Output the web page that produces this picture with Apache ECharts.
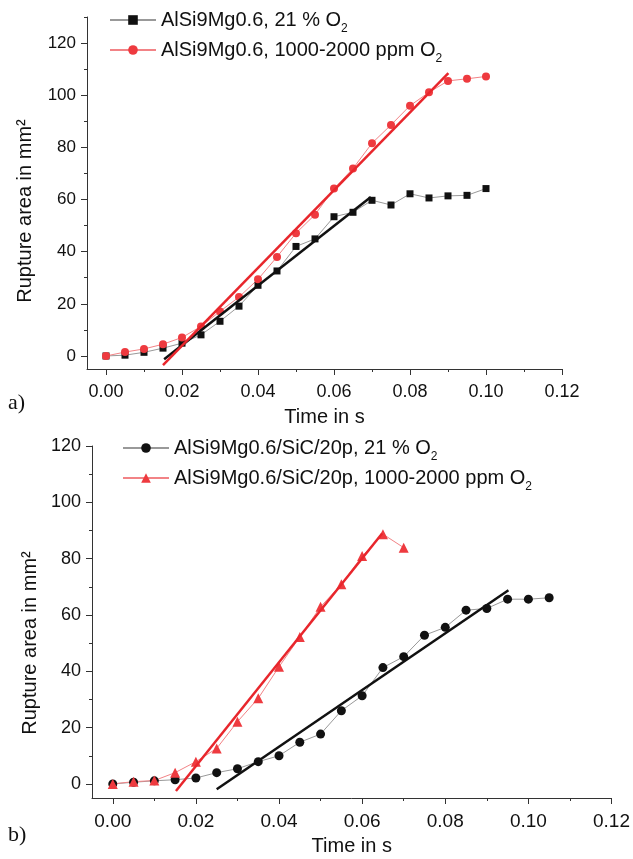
<!DOCTYPE html>
<html>
<head>
<meta charset="utf-8">
<script src="https://cdn.jsdelivr.net/npm/echarts@6/dist/echarts.min.js"></script>
<style>
  html, body { margin: 0; background: #fff; }
  #main { width: 633px; height: 859px; }
</style>
</head>
<body>
<div id="main"></div>
<script>
// ---- data ----
const timeA = [0, 0.005, 0.01, 0.015, 0.02, 0.025, 0.03, 0.035, 0.04, 0.045, 0.05,
  0.055, 0.06, 0.065, 0.07, 0.075, 0.08, 0.085, 0.09, 0.095, 0.1];
const areaAir = [0, 0.3, 1.4, 3.0, 4.9, 8.1, 13.3, 19.1, 27.1, 32.6, 42.0,
  44.9, 53.4, 55.1, 59.7, 57.9, 62.2, 60.6, 61.4, 61.6, 64.2];
const areaLow = [0, 1.5, 2.7, 4.5, 7.1, 11.3, 17.1, 22.6, 29.4, 38.0, 47.1,
  54.2, 64.2, 71.9, 81.6, 88.6, 96.0, 101.1, 105.5, 106.3, 107.2];
const fitAirA = [[0.0153, -1.3], [0.0697, 61.0]];
const fitLowA = [[0.015, -3.5], [0.0901, 108.5]];

const timeBAir = [0, 0.005, 0.01, 0.015, 0.02, 0.025, 0.03, 0.035, 0.04, 0.045, 0.05,
  0.055, 0.06, 0.065, 0.07, 0.075, 0.08, 0.085, 0.09, 0.095, 0.1, 0.105];
const areaSicAir = [0, 0.6, 1.1, 1.5, 2.1, 4.0, 5.4, 7.9, 10.0, 14.8, 17.7,
  26.0, 31.3, 41.3, 45.2, 52.8, 55.6, 61.7, 62.3, 65.6, 65.6, 66.1];
const timeBLow = [0, 0.005, 0.01, 0.015, 0.02, 0.025, 0.03, 0.035, 0.04, 0.045, 0.05,
  0.055, 0.06, 0.065, 0.07];
const areaSicLow = [0, 0.8, 1.2, 4.0, 7.9, 12.6, 22.1, 30.4, 41.6, 52.2, 62.9,
  70.9, 80.9, 88.7, 83.9];
const fitAirB = [[0.025, -1.9], [0.0952, 68.8]];
const fitLowB = [[0.0152, -2.5], [0.0648, 88.9]];

// tick values
const xMajor = [0, 0.02, 0.04, 0.06, 0.08, 0.10, 0.12];
const xMinor = [0.01, 0.03, 0.05, 0.07, 0.09, 0.11];
const yMajor = [0, 20, 40, 60, 80, 100, 120];
const yMinorA = [10, 30, 50, 70, 90, 110, 130];
const yMinorB = [10, 30, 50, 70, 90, 110];

const namesA = ['AlSi9Mg0.6, 21 % O2', 'AlSi9Mg0.6, 1000-2000 ppm O2'];
const namesB = ['AlSi9Mg0.6/SiC/20p, 21 % O2', 'AlSi9Mg0.6/SiC/20p, 1000-2000 ppm O2'];

const FONT = '"Liberation Sans", Arial, sans-serif';
const RED = '#ee3a3f';
const AXIS = '#333';

const pairs = (xs, ys) => xs.map((x, i) => [x, ys[i]]);

function xMain(grid, labelSize) {
  return {
    type: 'value', gridIndex: grid, min: -0.005, max: 0.12, position: 'bottom',
    name: 'Time in s', nameLocation: 'middle', nameGap: 38,
    nameTextStyle: { fontFamily: FONT, fontSize: 20, color: '#111' },
    axisLine: { onZero: false, lineStyle: { color: AXIS, width: 1 } },
    axisTick: { customValues: xMajor, length: 6, lineStyle: { color: AXIS } },
    axisLabel: { customValues: xMajor, margin: 14, fontFamily: FONT, fontSize: labelSize,
      color: '#111', formatter: v => v.toFixed(2) },
    splitLine: { show: false }
  };
}
function xMinorAxis(grid) {
  return {
    type: 'value', gridIndex: grid, min: -0.005, max: 0.12, position: 'bottom',
    axisLine: { show: false, onZero: false },
    axisTick: { customValues: xMinor, length: 3, lineStyle: { color: AXIS } },
    axisLabel: { show: false }, splitLine: { show: false }
  };
}
function yMain(grid, max, labelSize, gap, shift) {
  return {
    type: 'value', gridIndex: grid, min: -5, max: max, position: 'left',
    name: 'Rupture area in mm²', nameLocation: 'middle', nameGap: gap,
    nameTextStyle: { fontFamily: FONT, fontSize: 20, color: '#111', padding: [0, shift, 0, 0] },
    axisLine: { show: true, onZero: false, lineStyle: { color: AXIS, width: 1 } },
    axisTick: { show: true, customValues: yMajor, length: 6, lineStyle: { color: AXIS } },
    axisLabel: { customValues: yMajor, margin: 11, fontFamily: FONT, fontSize: labelSize, color: '#111' },
    splitLine: { show: false }
  };
}
function yMinorAxis(grid, max, minors) {
  return {
    type: 'value', gridIndex: grid, min: -5, max: max, position: 'left',
    axisLine: { show: false, onZero: false },
    axisTick: { show: true, customValues: minors, length: 3, lineStyle: { color: AXIS } },
    axisLabel: { show: false }, splitLine: { show: false }
  };
}

function dataSeries(name, xi, yi, data, symbol, size, color, lineColor) {
  return {
    name: name, type: 'line', xAxisIndex: xi, yAxisIndex: yi, data: data,
    symbol: symbol, symbolSize: size,
    itemStyle: { color: color },
    lineStyle: { color: lineColor, width: 1 },
    z: 3
  };
}
function fitSeries(xi, yi, data, color) {
  return {
    type: 'line', xAxisIndex: xi, yAxisIndex: yi, data: data,
    symbol: 'none', lineStyle: { color: color, width: 2.5 }, z: 4
  };
}

function legend(left, top, names) {
  return {
    data: names, orient: 'vertical', left: left, top: top, padding: 0,
    itemWidth: 46, itemHeight: 12, itemGap: 5, selectedMode: false,
    formatter: n => {
      const m = n.match(/^(.*O)2$/);
      return m ? '{t|' + m[1] + '}{s|2}' : '{t|' + n + '}';
    },
    textStyle: {
      fontFamily: FONT, color: '#111',
      rich: {
        t: { fontFamily: FONT, fontSize: 20, lineHeight: 30, color: '#111' },
        s: { fontFamily: FONT, fontSize: 12, lineHeight: 12, verticalAlign: 'bottom', color: '#111' }
      }
    }
  };
}

const chart = echarts.init(document.getElementById('main'), null, { renderer: 'canvas' });
chart.setOption({
  animation: false,
  backgroundColor: '#fff',
  grid: [
    { left: 87, top: 17, width: 475, height: 352 },
    { left: 92, top: 446, width: 521, height: 352 }
  ],
  xAxis: [xMain(0, 18), xMinorAxis(0), xMain(1, 19), xMinorAxis(1)],
  yAxis: [yMain(0, 130, 17, 52, 36), yMinorAxis(0, 130, yMinorA),
          yMain(1, 120, 18, 51, 42), yMinorAxis(1, 120, yMinorB)],
  legend: [legend(109, 10, namesA), legend(122, 438, namesB)],
  graphic: [
    { type: 'text', left: 8, top: 392, style: { text: 'a)', fontFamily: '"Liberation Serif", serif', fontSize: 22, fill: '#111' } },
    { type: 'text', left: 8, top: 824, style: { text: 'b)', fontFamily: '"Liberation Serif", serif', fontSize: 22, fill: '#111' } }
  ],
  series: [
    dataSeries(namesA[0], 0, 0, pairs(timeA, areaAir), 'rect', 7, '#111', '#999'),
    dataSeries(namesA[1], 0, 0, pairs(timeA, areaLow), 'circle', 8, RED, '#f28386'),
    fitSeries(0, 0, fitAirA, '#111'),
    fitSeries(0, 0, fitLowA, '#e8262c'),
    dataSeries(namesB[0], 2, 2, pairs(timeBAir, areaSicAir), 'circle', 9, '#111', '#999'),
    dataSeries(namesB[1], 2, 2, pairs(timeBLow, areaSicLow), 'triangle', 10, RED, '#f28386'),
    fitSeries(2, 2, fitAirB, '#111'),
    fitSeries(2, 2, fitLowB, '#e8262c')
  ]
});
</script>
</body>
</html>
